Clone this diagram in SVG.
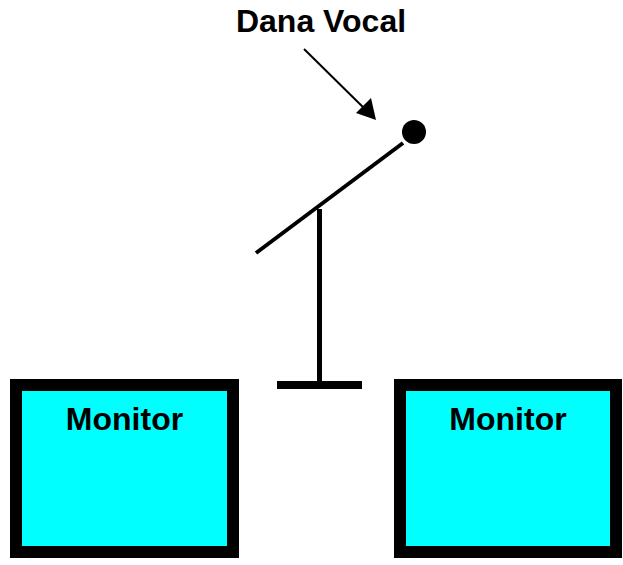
<svg xmlns="http://www.w3.org/2000/svg" width="623" height="565" viewBox="0 0 623 565">
<style>
.lbl{font-family:"Liberation Sans",Arial,sans-serif;font-weight:bold;font-size:32px;fill:#000;text-anchor:middle}
.mon{fill:#00FFFF;stroke:#000;stroke-width:12}
.stand{stroke:#000;fill:none}
</style>
<rect width="623" height="565" fill="#fff"/>
<g id="label">
<text class="lbl" x="321" y="32">Dana Vocal</text>
</g>
<g id="mic">
<line class="stand" x1="403" y1="143" x2="256" y2="253" stroke-width="4"/>
<circle cx="414" cy="132" r="12" fill="#000"/>
<line class="stand" x1="319.5" y1="209" x2="319.5" y2="385" stroke-width="5"/>
<rect x="277" y="381" width="85" height="8" fill="#000"/>
</g>
<g id="monitor-left">
<rect class="mon" x="16" y="385" width="217" height="167"/>
<text class="lbl" x="124.5" y="430">Monitor</text>
</g>
<g id="monitor-right">
<rect class="mon" x="400" y="385" width="216" height="167"/>
<text class="lbl" x="508" y="430">Monitor</text>
</g>
<g id="connectors">
<line x1="304" y1="49" x2="370" y2="114" stroke="#000" stroke-width="2"/>
<path d="M376,120 L356,113 L371,98 Z" fill="#000"/>
</g>
</svg>
